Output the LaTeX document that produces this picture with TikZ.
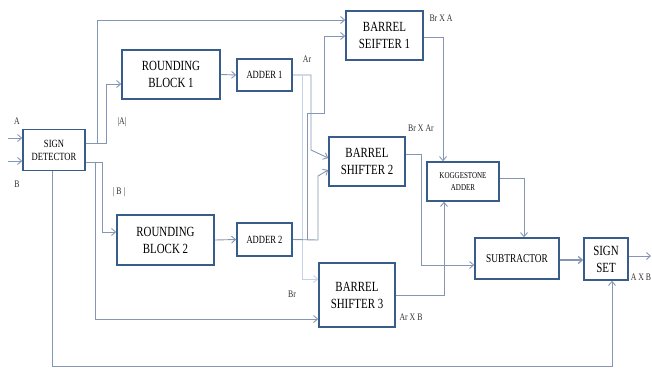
\documentclass[tikz,border=0pt]{standalone}
\usepackage{fontspec}
\setmainfont[FakeStretch=0.78]{Liberation Serif}
\usetikzlibrary{arrows.meta}
\definecolor{boxblue}{HTML}{385D8A}
\definecolor{wiregray}{HTML}{8596B2}
\definecolor{wirelight}{HTML}{C4D2E6}

\begin{document}
\begin{tikzpicture}[x=1pt, y=-1pt,
  blk/.style={draw=boxblue, line width=1.6pt, fill=white, align=center,
    inner sep=1pt, font=\fontsize{14}{17}\selectfont},
  wire/.style={draw=wiregray, line width=0.9pt},
  arr/.style={wire, -{Straight Barb[length=4pt, width=7pt]}},
  lbl/.style={font=\fontsize{10}{11}\selectfont, text=black!80}]
  \useasboundingbox (0,0) rectangle (652,368);

  % --- blocks ---
  \node[blk, minimum width=62, minimum height=41, font=\fontsize{11}{13}\selectfont]
    (sd) at (54,150) {SIGN\\DETECTOR};
  \node[blk, minimum width=98, minimum height=49] (rb1) at (171,74.5) {ROUNDING\\BLOCK 1};
  \node[blk, minimum width=55, minimum height=32, font=\fontsize{11}{12}\selectfont]
    (add1) at (264.5,75) {ADDER 1};
  \node[blk, minimum width=77, minimum height=49] (bs1) at (384.5,35.5) {BARREL\\SEIFTER 1};
  \node[blk, minimum width=76, minimum height=49] (bs2) at (367,161.5) {BARREL\\SHIFTER 2};
  \node[blk, minimum width=72, minimum height=39, font=\fontsize{9}{12}\selectfont]
    (ks) at (463,181.5) {KOGGESTONE\\ADDER};
  \node[blk, minimum width=97, minimum height=50] (rb2) at (165.5,240) {ROUNDING\\BLOCK 2};
  \node[blk, minimum width=55, minimum height=33, font=\fontsize{11}{12}\selectfont]
    (add2) at (264.5,239.5) {ADDER 2};
  \node[blk, minimum width=76, minimum height=64] (bs3) at (357,295) {BARREL\\SHIFTER 3};
  \node[blk, minimum width=84, minimum height=41, font=\fontsize{12}{13}\selectfont]
    (sub) at (517,258.5) {SUBTRACTOR};
  \node[blk, minimum width=44, minimum height=42] (ss) at (606,259) {SIGN\\SET};

  % --- inputs and output ---
  \coordinate (inA) at (8,138);
  \coordinate (inB) at (8,161);
  \coordinate (out) at (651,256);
  \draw[arr] (inA) -- (inA -| sd.west);
  \draw[arr] (inB) -- (inB -| sd.west);
  \draw[arr] (ss.east |- out) -- (out);

  % --- sign detector fan-out ---
  \draw[arr] (sd.east |- 0,143) -| (97,20) -- (bs1.west |- 0,20);
  \draw[arr] (sd.east |- 0,143) -| (106,84) -- (rb1.west |- 0,84);
  \draw[arr] (sd.east |- 0,162) -| (102,232) -- (rb2.west |- 0,232);
  \draw[arr] (sd.east |- 0,162) -| (95,319) -- (bs3.west |- 0,319);
  \draw[arr] (sd.south -| 52,0) -- (52,366) -| (ss.south -| 612,0);

  % --- rounding and adders ---
  \draw[arr] (rb1.east) -- (add1.west);
  \draw[arr] (rb2.east) -- (add2.west);
  \draw[arr] (add1.east) -- (311,75) -- (311,150) -- (bs2.west |- 0,158);
  \draw[draw=wirelight, line width=0.9pt, -{Straight Barb[length=4pt, width=7pt]}]
    (302,75) -- (302,279) -- (bs3.west |- 0,279);
  \draw[arr] (add2.east) -- (318,240) -- (318,176) -- (bs2.west |- 0,170);
  \draw[arr] (307,240) -- (307,113) -- (324,113) -- (324,36) -- (bs1.west |- 0,36);

  % --- shifters to adder and subtractor ---
  \draw[arr] (bs1.east |- 0,37) -| (ks.north -| 443,0);
  \draw[arr] (bs3.east |- 0,295) -| (ks.south -| 444,0);
  \draw[arr] (bs2.east |- 0,154) -| (421,265) -- (sub.west |- 0,265);
  \draw[arr] (ks.east |- 0,178) -| (sub.north -| 524,0);
  \draw[arr, line width=1.3pt] (sub.east |- 0,260) -- (ss.west |- 0,260);

  % --- labels ---
  \node[lbl] (la) at (17,121) {A};
  \node[lbl] (lb) at (17,184) {B};
  \node[lbl] (labsa) at (122,122) {|A|};
  \node[lbl] (labsb) at (119,192) {| B |};
  \node[lbl] (lar) at (307,59) {Ar};
  \node[lbl] (lbra) at (441,18) {Br X A};
  \node[lbl] (lbrar) at (421,128) {Br X Ar};
  \node[lbl] (lbr) at (292,294) {Br};
  \node[lbl] (larb) at (411,317) {Ar X B};
  \node[lbl] (laxb) at (641,277) {A X B};
\end{tikzpicture}
\end{document}
